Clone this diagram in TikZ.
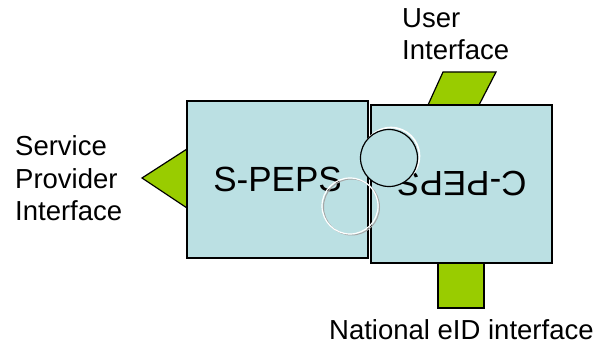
\documentclass[tikz,border=0pt]{standalone}
\usepackage{fontspec}
\setmainfont{Liberation Sans}
\usepackage{xcolor}
\definecolor{pepsblue}{RGB}{187,224,227}
\definecolor{tabgreen}{RGB}{153,204,0}

\begin{document}
\begin{tikzpicture}[x=1pt, y=-1pt]
  \tikzset{pepsbox/.style  = {draw, line width=1.2pt, fill=pepsblue,
                              minimum width=181pt, minimum height=157pt,
                              inner sep=0pt, font=\fontsize{35}{42}\selectfont},
           tab/.style      = {draw, line width=1.2pt, fill=tabgreen},
           lbl/.style      = {inner sep=0pt, anchor=base west, align=left,
                              font=\fontsize{27.5}{32.5}\selectfont}}

\useasboundingbox (0,0) rectangle (596,344);

% interfaces
\draw[tab] (187,149) -- (142,178) -- (187,208) -- cycle;
\draw[tab] (428,105) -- (443,72) -- (496,72) -- (479,105) -- cycle;
\draw[tab] (438,262) rectangle (484,308);

% level 0
\node[pepsbox] (speps) at (277.5,179.5) {S-PEPS};
\node[pepsbox, minimum height=158pt, rotate=180] (cpeps) at (461.5,184) {C-PEPS};

% puzzle joints
\draw[gray!70, line width=1pt] (351.5,207) circle (28);
\draw[white, line width=1.2pt] (350,206) circle (28);
\draw[white, line width=1.6pt] (391,156) circle (28.5);
\draw[line width=1.2pt, fill=pepsblue] (389,158) circle (28.5);

% labels (base = last line)
\node[lbl] (spi) at (15,221) {Service\\Provider\\Interface};
\node[lbl] (ui)  at (402,60) {User\\Interface};
\node[lbl] (nid) at (329,339) {National eID interface};

\end{tikzpicture}
\end{document}
